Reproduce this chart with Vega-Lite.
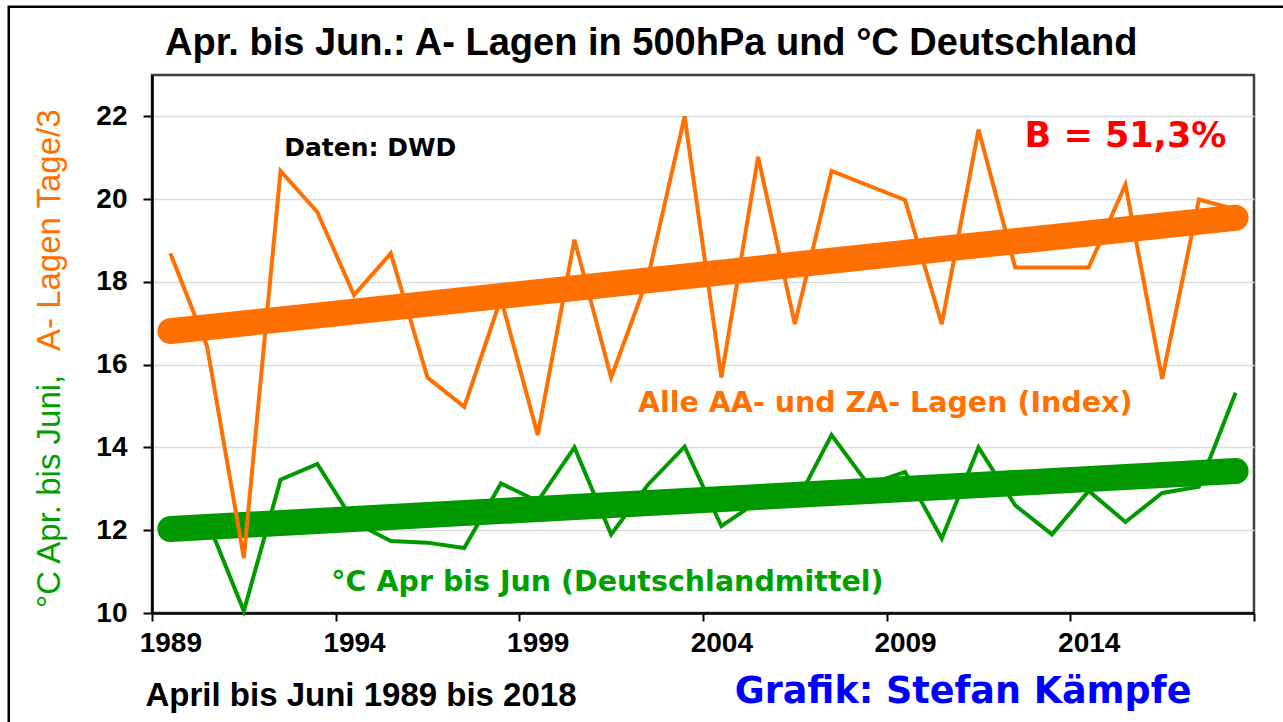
{
  "$schema": "https://vega.github.io/schema/vega-lite/v6.json",
  "width": 1102,
  "height": 538,
  "autosize": {"type": "none"},
  "padding": {"left": 152, "top": 75, "right": 29, "bottom": 109},
  "background": "white",
  "title": {
    "text": "Apr. bis Jun.: A- Lagen in 500hPa und °C Deutschland",
    "anchor": "start", "frame": "group", "dx": 13, "offset": -88, "baseline": "alphabetic",
    "font": "Liberation Sans", "fontSize": 38, "fontWeight": "bold", "color": "black"
  },
  "config": {"view": {"stroke": "#404040", "strokeWidth": 2.5}},
  "datasets": {
    "werte": [
      {"Jahr": 1989, "Lagen": 18.69, "Temp": 12.0},
      {"Jahr": 1990, "Lagen": 16.44, "Temp": 12.25},
      {"Jahr": 1991, "Lagen": 11.33, "Temp": 10.05},
      {"Jahr": 1992, "Lagen": 20.68, "Temp": 13.22},
      {"Jahr": 1993, "Lagen": 19.69, "Temp": 13.6},
      {"Jahr": 1994, "Lagen": 17.68, "Temp": 12.2},
      {"Jahr": 1995, "Lagen": 18.69, "Temp": 11.74},
      {"Jahr": 1996, "Lagen": 15.69, "Temp": 11.7},
      {"Jahr": 1997, "Lagen": 14.98, "Temp": 11.57},
      {"Jahr": 1998, "Lagen": 17.6, "Temp": 13.13},
      {"Jahr": 1999, "Lagen": 14.3, "Temp": 12.7},
      {"Jahr": 2000, "Lagen": 19.02, "Temp": 14.0},
      {"Jahr": 2001, "Lagen": 15.69, "Temp": 11.9},
      {"Jahr": 2002, "Lagen": 18.1, "Temp": 13.1},
      {"Jahr": 2003, "Lagen": 22.0, "Temp": 14.02},
      {"Jahr": 2004, "Lagen": 15.69, "Temp": 12.1},
      {"Jahr": 2005, "Lagen": 21.02, "Temp": 12.7},
      {"Jahr": 2006, "Lagen": 16.98, "Temp": 12.6},
      {"Jahr": 2007, "Lagen": 20.68, "Temp": 14.3},
      {"Jahr": 2008, "Lagen": 20.33, "Temp": 13.1},
      {"Jahr": 2009, "Lagen": 19.98, "Temp": 13.41},
      {"Jahr": 2010, "Lagen": 16.98, "Temp": 11.8},
      {"Jahr": 2011, "Lagen": 21.68, "Temp": 14.0},
      {"Jahr": 2012, "Lagen": 18.35, "Temp": 12.6},
      {"Jahr": 2013, "Lagen": 18.35, "Temp": 11.9},
      {"Jahr": 2014, "Lagen": 18.35, "Temp": 12.95},
      {"Jahr": 2015, "Lagen": 20.35, "Temp": 12.2},
      {"Jahr": 2016, "Lagen": 15.66, "Temp": 12.9},
      {"Jahr": 2017, "Lagen": 19.99, "Temp": 13.05},
      {"Jahr": 2018, "Lagen": 19.75, "Temp": 15.32}
    ],
    "trend": [
      {"Jahr": 1989, "TrendLagen": 16.81, "TrendTemp": 12.03},
      {"Jahr": 2018, "TrendLagen": 19.55, "TrendTemp": 13.43}
    ]
  },
  "layer": [
    {
      "data": {"values": [{"label": "Rahmen"}]},
      "mark": {"type": "rect", "fillOpacity": 0, "stroke": "black", "strokeWidth": 2.5},
      "encoding": {
        "x": {"datum": 1984.6, "type": "quantitative"},
        "x2": {"datum": 2022},
        "y": {"datum": 24.65, "type": "quantitative"},
        "y2": {"datum": 6}
      }
    },
    {
      "data": {"name": "trend"},
      "mark": {"type": "line", "color": "#009900", "strokeWidth": 26, "strokeCap": "round"},
      "encoding": {
        "x": {"field": "Jahr", "type": "quantitative",
          "scale": {"domain": [1988.5, 2018.5], "nice": false, "zero": false},
          "axis": {"values": [1988.5, 1993.5, 1998.5, 2003.5, 2008.5, 2013.5, 2018.5],
            "labelExpr": "datum.value < 2018 ? format(datum.value + 0.5, 'd') : ''",
            "labelOffset": 18.37, "grid": false, "tickSize": 8, "tickWidth": 2, "tickColor": "black",
            "domainColor": "black", "domainWidth": 2.5,
            "labelFont": "Liberation Sans", "labelFontSize": 28, "labelFontWeight": "bold", "labelColor": "black",
            "labelPadding": 8, "labelFlush": false, "labelOverlap": false, "labelBound": false,
            "title": "April bis Juni 1989 bis 2018", "titleFont": "Liberation Sans", "titleFontSize": 33,
            "titleFontWeight": "bold", "titleColor": "black", "titleX": -7, "titleY": 92,
            "titleAlign": "left", "titleBaseline": "alphabetic", "titleAnchor": "start"}},
        "y": {"field": "TrendTemp", "type": "quantitative",
          "scale": {"domain": [10, 23], "nice": false, "zero": false},
          "axis": {"values": [10, 12, 14, 16, 18, 20, 22], "title": null, "grid": true,
            "gridColor": "#DCDCDC", "gridWidth": 1.5, "tickSize": 9, "tickWidth": 2, "tickColor": "black",
            "domainColor": "black", "domainWidth": 2.5,
            "labelFont": "Liberation Sans", "labelFontSize": 28, "labelFontWeight": "bold", "labelColor": "black",
            "labelPadding": 16}}
      }
    },
    {
      "data": {"name": "trend"},
      "mark": {"type": "line", "color": "#FF7000", "strokeWidth": 26, "strokeCap": "round"},
      "encoding": {
        "x": {"field": "Jahr", "type": "quantitative"},
        "y": {"field": "TrendLagen", "type": "quantitative"}
      }
    },
    {
      "data": {"name": "werte"},
      "mark": {"type": "line", "color": "#009900", "strokeWidth": 4, "strokeJoin": "miter"},
      "encoding": {
        "x": {"field": "Jahr", "type": "quantitative"},
        "y": {"field": "Temp", "type": "quantitative"}
      }
    },
    {
      "data": {"name": "werte"},
      "mark": {"type": "line", "color": "#FF7000", "strokeWidth": 4, "strokeJoin": "miter"},
      "encoding": {
        "x": {"field": "Jahr", "type": "quantitative"},
        "y": {"field": "Lagen", "type": "quantitative"}
      }
    },
    {
      "data": {"values": [{"label": "Daten: DWD"}]},
      "mark": {"type": "text", "font": "DejaVu Sans", "fontSize": 25, "fontWeight": "bold", "color": "black", "align": "center", "baseline": "middle"},
      "encoding": {
        "x": {"datum": 1994.44, "type": "quantitative"},
        "y": {"datum": 21.24, "type": "quantitative"},
        "text": {"field": "label"}
      }
    },
    {
      "data": {"values": [{"label": "B = 51,3%"}]},
      "mark": {"type": "text", "font": "DejaVu Sans", "fontSize": 35, "fontWeight": "bold", "color": "#FF0000", "align": "center", "baseline": "middle"},
      "encoding": {
        "x": {"datum": 2015.0, "type": "quantitative"},
        "y": {"datum": 21.53, "type": "quantitative"},
        "text": {"field": "label"}
      }
    },
    {
      "data": {"values": [{"label": "Alle AA- und ZA- Lagen (Index)"}]},
      "mark": {"type": "text", "font": "DejaVu Sans", "fontSize": 28.5, "fontWeight": "bold", "color": "#FF7000", "align": "center", "baseline": "middle"},
      "encoding": {
        "x": {"datum": 2008.46, "type": "quantitative"},
        "y": {"datum": 15.07, "type": "quantitative"},
        "text": {"field": "label"}
      }
    },
    {
      "data": {"values": [{"label": "°C Apr bis Jun (Deutschlandmittel)"}]},
      "mark": {"type": "text", "font": "DejaVu Sans", "fontSize": 28.5, "fontWeight": "bold", "color": "#00A000", "align": "center", "baseline": "middle"},
      "encoding": {
        "x": {"datum": 2000.9, "type": "quantitative"},
        "y": {"datum": 10.75, "type": "quantitative"},
        "text": {"field": "label"}
      }
    },
    {
      "data": {"values": [{"label": "°C Apr. bis Juni,"}]},
      "mark": {"type": "text", "font": "Liberation Sans", "fontSize": 33, "color": "#00A000", "angle": 270, "align": "left", "baseline": "middle"},
      "encoding": {
        "x": {"datum": 1985.72, "type": "quantitative"},
        "y": {"datum": 10.12, "type": "quantitative"},
        "text": {"field": "label"}
      }
    },
    {
      "data": {"values": [{"label": "A- Lagen Tage/3"}]},
      "mark": {"type": "text", "font": "Liberation Sans", "fontSize": 33, "color": "#FF7000", "angle": 270, "align": "left", "baseline": "middle"},
      "encoding": {
        "x": {"datum": 1985.72, "type": "quantitative"},
        "y": {"datum": 16.33, "type": "quantitative"},
        "text": {"field": "label"}
      }
    },
    {
      "data": {"values": [{"label": "Grafik: Stefan Kämpfe"}]},
      "mark": {"type": "text", "font": "DejaVu Sans", "fontSize": 36.5, "fontWeight": "bold", "color": "#0000FF", "align": "center", "baseline": "alphabetic"},
      "encoding": {
        "x": {"datum": 2010.58, "type": "quantitative"},
        "y": {"datum": 7.83, "type": "quantitative"},
        "text": {"field": "label"}
      }
    }
  ]
}
